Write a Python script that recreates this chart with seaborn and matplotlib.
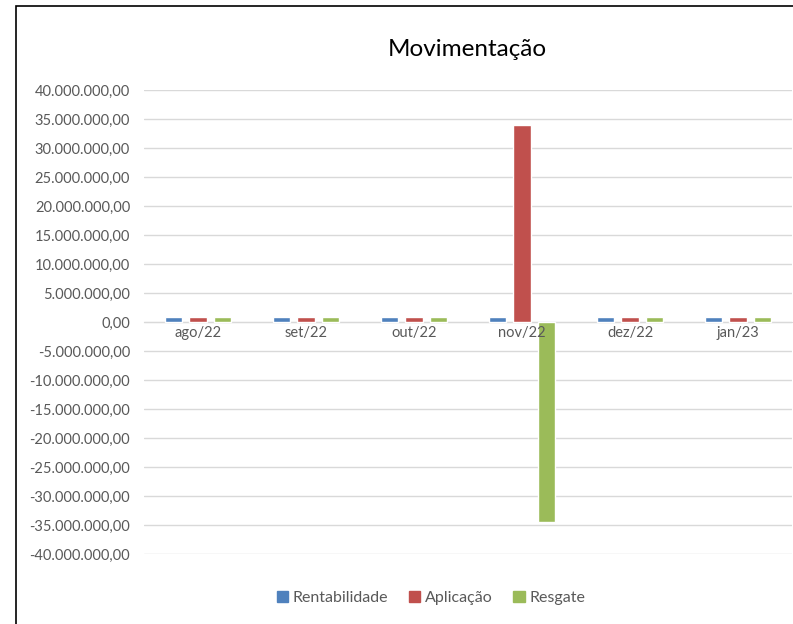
import matplotlib
matplotlib.use("Agg")
import matplotlib.pyplot as plt
import matplotlib.patches as mpatches
from matplotlib.ticker import FuncFormatter
import seaborn as sns
import pandas as pd

# chart data
months = ["ago/22", "set/22", "out/22", "nov/22", "dez/22", "jan/23"]
rentabilidade = [800000, 800000, 800000, 800000, 800000, 800000]
aplicacao = [800000, 800000, 800000, 34000000, 800000, 800000]
resgate = [800000, 800000, 800000, -34400000, 800000, 800000]
series = ["Rentabilidade", "Aplicação", "Resgate"]
colors = ["#4F81BD", "#C0504D", "#9BBB59"]
yticks = list(range(-40000000, 40000001, 5000000))

df = pd.DataFrame({
    "mes": months * 3,
    "serie": [s for s in series for _ in months],
    "valor": rentabilidade + aplicacao + resgate,
})

sns.set_style("white")
plt.rcParams["font.family"] = ["Lato", "DejaVu Sans"]

fig = plt.figure(figsize=(7.93, 6.24), dpi=100)
ax = fig.add_axes([144 / 793, 1 - 554 / 624, 648 / 793, 464 / 624])

# gridlines drawn under the bars, axis labels kept on top
for t in yticks:
    ax.axhline(t, color="#D9D9D9", linewidth=1, zorder=0)

sns.barplot(data=df, x="mes", y="valor", hue="serie", hue_order=series,
            order=months, palette=colors, width=0.68, gap=0.3,
            saturation=1, ax=ax, legend=False, zorder=2)

ax.set_ylim(-40000000, 40000000)
ax.set_yticks(yticks)


def br_fmt(v, pos):
    s = f"{v:,.2f}"
    return s.replace(",", "X").replace(".", ",").replace("X", ".")


ax.yaxis.set_major_formatter(FuncFormatter(br_fmt))
for side in ["top", "right", "left"]:
    ax.spines[side].set_visible(False)
ax.spines["bottom"].set_position(("data", 0))
ax.spines["bottom"].set_color("#D9D9D9")
ax.spines["bottom"].set_zorder(1)
ax.xaxis.set_zorder(5)
ax.tick_params(axis="y", length=0, pad=10, labelsize=10.5, labelcolor="#595959")
ax.tick_params(axis="x", length=0, pad=3, labelsize=10.5, labelcolor="#595959")
ax.set_xlabel("")
ax.set_ylabel("")
ax.set_xlim(-0.5, 5.5)

fig.text(467 / 793, 1 - 50 / 624, "Movimentação", ha="center", va="center",
         fontsize=17.5, color="#000000")

handles = [mpatches.Patch(color=c, label=s) for s, c in zip(series, colors)]
fig.legend(handles=handles, loc="center", bbox_to_anchor=(431 / 793, 1 - 598 / 624),
           ncol=3, frameon=False, fontsize=11.5, handlelength=0.7, handleheight=0.7,
           handletextpad=0.3, columnspacing=1.3, labelcolor="#595959")

border = mpatches.Rectangle((16 / 793, -0.05), 1.0, 1 - 6 / 624 + 0.05,
                            transform=fig.transFigure, fill=False,
                            edgecolor="black", linewidth=1.2)
fig.patches.append(border)

fig.savefig("out.png", dpi=100)
